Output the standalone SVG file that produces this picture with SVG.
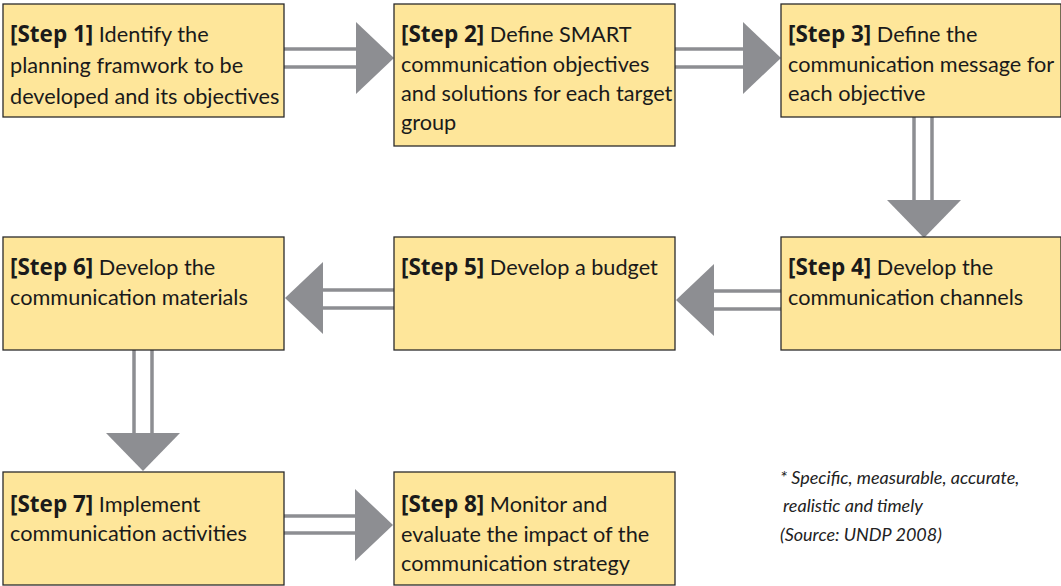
<svg xmlns="http://www.w3.org/2000/svg" width="1061" height="586" viewBox="0 0 1061 586">
<style>
.box{fill:#FEE69A;stroke:#2b2b2b;stroke-width:1.3}
.t{font-family:Lato,"Liberation Sans",sans-serif;font-size:21.7px;fill:#1a1a1a}
.b{font-family:"Open Sans","Liberation Sans",sans-serif;font-weight:bold;font-size:22.5px}
.ln{stroke:#8d8e92;stroke-width:3.5;fill:none}
.hd{fill:#8d8e92}
.note{font-family:Lato,"Liberation Sans",sans-serif;font-size:18px;font-style:italic;fill:#222}
</style>
<rect width="1061" height="586" fill="#fff"/>
<g id="connectors">
  <path class="ln" d="M284 49H357M284 67H357"/>
  <polygon class="hd" points="356,22 394,58 356,94"/>
  <path class="ln" d="M675 49H744M675 67H744"/>
  <polygon class="hd" points="743,22 781,58 743,94"/>
  <path class="ln" d="M914 117V201M932 117V201"/>
  <polygon class="hd" points="887,200 961,200 924,238"/>
  <path class="ln" d="M781 291H713M781 309H713"/>
  <polygon class="hd" points="714,264 676,300 714,336"/>
  <path class="ln" d="M394 290H322M394 308H322"/>
  <polygon class="hd" points="323,262 285,298 323,334"/>
  <path class="ln" d="M134 350V434M152 350V434"/>
  <polygon class="hd" points="106,433 180,433 143,471"/>
  <path class="ln" d="M284 516H357M284 533H357"/>
  <polygon class="hd" points="355,489 393,525 355,561"/>
</g>
<g id="step1">
  <rect class="box" x="3" y="4" width="281" height="113"/>
  <text class="t" x="10" y="42"><tspan class="b">[Step 1]</tspan> Identify the</text>
  <text class="t" x="10" y="73">planning framwork to be</text>
  <text class="t" x="10" y="104">developed and its objectives</text>
</g>
<g id="step2">
  <rect class="box" x="394" y="4" width="281" height="142"/>
  <text class="t" x="401" y="42"><tspan class="b">[Step 2]</tspan> Define SMART</text>
  <text class="t" x="401" y="72">communication objectives</text>
  <text class="t" x="401" y="101">and solutions for each target</text>
  <text class="t" x="401" y="130">group</text>
</g>
<g id="step3">
  <rect class="box" x="781" y="4" width="280" height="113"/>
  <text class="t" x="788" y="42"><tspan class="b">[Step 3]</tspan> Define the</text>
  <text class="t" x="788" y="72">communication message for</text>
  <text class="t" x="788" y="101">each objective</text>
</g>
<g id="step4">
  <rect class="box" x="781" y="237" width="280" height="113"/>
  <text class="t" x="788" y="275"><tspan class="b">[Step 4]</tspan> Develop the</text>
  <text class="t" x="788" y="305">communication channels</text>
</g>
<g id="step5">
  <rect class="box" x="394" y="237" width="281" height="113"/>
  <text class="t" x="401" y="275"><tspan class="b">[Step 5]</tspan> Develop a budget</text>
</g>
<g id="step6">
  <rect class="box" x="3" y="237" width="281" height="113"/>
  <text class="t" x="10" y="275"><tspan class="b">[Step 6]</tspan> Develop the</text>
  <text class="t" x="10" y="305">communication materials</text>
</g>
<g id="step7">
  <rect class="box" x="3" y="472" width="281" height="113"/>
  <text class="t" x="10" y="512"><tspan class="b">[Step 7]</tspan> Implement</text>
  <text class="t" x="10" y="541">communication activities</text>
</g>
<g id="step8">
  <rect class="box" x="394" y="472" width="281" height="113"/>
  <text class="t" x="401" y="512"><tspan class="b">[Step 8]</tspan> Monitor and</text>
  <text class="t" x="401" y="542">evaluate the impact of the</text>
  <text class="t" x="401" y="571">communication strategy</text>
</g>
<g id="note">
  <text class="note" x="780" y="484">*  Specific, measurable, accurate,</text>
  <text class="note" x="783" y="512">realistic and timely</text>
  <text class="note" x="780" y="541">(Source: UNDP 2008)</text>
</g>
</svg>
